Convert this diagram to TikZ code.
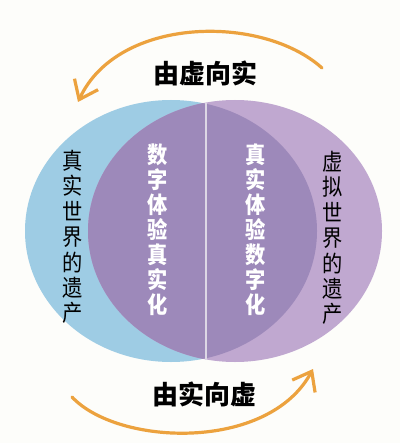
\documentclass[tikz,border=0pt]{standalone}
\usepackage{fontspec}
\usepackage{tikz}
\usetikzlibrary{arrows,arrows.meta,shapes}
\newfontfamily\cjk{Noto Sans CJK SC}
\newfontfamily\cjknarrow{Noto Sans CJK SC}[FakeStretch=0.88]
\definecolor{realblue}{RGB}{158,204,228}
\definecolor{virtpurple}{RGB}{192,168,208}
\definecolor{mixpurple}{RGB}{157,137,186}
\definecolor{flow}{RGB}{236,162,62}
\definecolor{paper}{RGB}{253,253,250}
\tikzstyle{title} = [font=\cjk\bfseries\fontsize{26}{28}\selectfont,inner sep=0pt]
\tikzstyle{side text} = [font=\cjknarrow\fontsize{23}{25.4}\selectfont,align=center,inner sep=0pt]
\tikzstyle{inner text} = [font=\cjknarrow\bfseries\fontsize{23}{25}\selectfont,align=center,inner sep=0pt,white]
\tikzstyle{flow edge} = [draw,flow,line width=3.2pt,line cap=round,-{Straight Barb[length=17pt,width=26pt,line width=3.2pt]}]

\begin{document}
\begin{tikzpicture}[x=1pt,y=-1pt]
        \useasboundingbox[fill=paper] (0,0) rectangle (400,443);
        \fill[realblue] (171,231) ellipse [x radius=146,y radius=131];
        \fill[virtpurple] (235,231) ellipse [x radius=147,y radius=131];
        \begin{scope}
          \clip (171,231) ellipse [x radius=146,y radius=131];
          \fill[mixpurple] (235,231) ellipse [x radius=147,y radius=131];
        \end{scope}
        \coordinate (top) at (206,103);
        \coordinate (bottom) at (206,360);
        \draw[line width=2.5pt,color=black!10!mixpurple!30] (top) to (bottom);
        \node[title] (v2r) at (205,73) {由虚向实};
        \node[title] (r2v) at (204,394) {由实向虚};
        \node[side text] (real) at (73,237) {真\\实\\世\\界\\的\\遗\\产};
        \node[side text] (virt) at (333,238) {虚\\拟\\世\\界\\的\\遗\\产};
        \node[inner text] (d2r) at (158,230) {数\\字\\体\\验\\真\\实\\化};
        \node[inner text] (r2d) at (256,230) {真\\实\\体\\验\\数\\字\\化};
        \coordinate (a) at (322,68);
        \coordinate (a1) at (78,102);
        \coordinate (b) at (72,397);
        \coordinate (b1) at (313,369);
        \draw[flow edge] (a) .. controls (262,14) and (118,16) .. (a1);
        \draw[flow edge] (b) .. controls (118,446) and (268,452) .. (b1);
      \end{tikzpicture}
\end{document}
